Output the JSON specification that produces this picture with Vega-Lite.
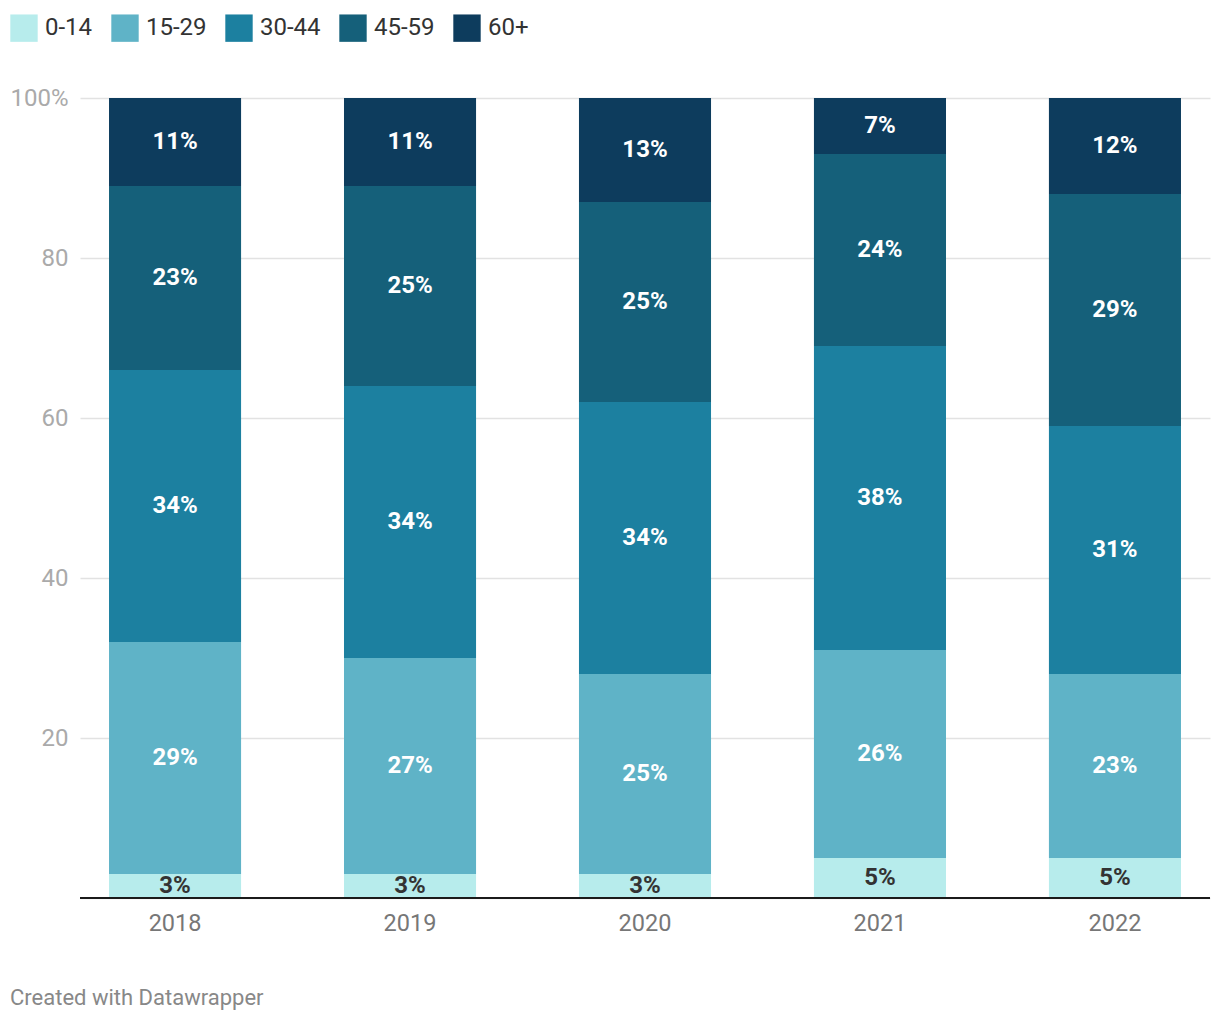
{
  "$schema": "https://vega.github.io/schema/vega-lite/v6.json",
  "width": 1130,
  "height": 800,
  "autosize": {"type": "none"},
  "padding": {"left": 80, "top": 98, "right": 10, "bottom": 124},
  "background": "white",
  "config": {
    "font": "Roboto",
    "view": {"stroke": null}
  },
  "title": {
    "text": "Created with Datawrapper",
    "orient": "bottom",
    "anchor": "start",
    "frame": "group",
    "dx": -70,
    "offset": 53,
    "fontSize": 22,
    "fontWeight": "normal",
    "color": "#888888",
    "font": "Roboto"
  },
  "data": {
    "values": [
      {"year": "2018", "group": "0-14", "order": 1, "value": 3},
      {"year": "2018", "group": "15-29", "order": 2, "value": 29},
      {"year": "2018", "group": "30-44", "order": 3, "value": 34},
      {"year": "2018", "group": "45-59", "order": 4, "value": 23},
      {"year": "2018", "group": "60+", "order": 5, "value": 11},
      {"year": "2019", "group": "0-14", "order": 1, "value": 3},
      {"year": "2019", "group": "15-29", "order": 2, "value": 27},
      {"year": "2019", "group": "30-44", "order": 3, "value": 34},
      {"year": "2019", "group": "45-59", "order": 4, "value": 25},
      {"year": "2019", "group": "60+", "order": 5, "value": 11},
      {"year": "2020", "group": "0-14", "order": 1, "value": 3},
      {"year": "2020", "group": "15-29", "order": 2, "value": 25},
      {"year": "2020", "group": "30-44", "order": 3, "value": 34},
      {"year": "2020", "group": "45-59", "order": 4, "value": 25},
      {"year": "2020", "group": "60+", "order": 5, "value": 13},
      {"year": "2021", "group": "0-14", "order": 1, "value": 5},
      {"year": "2021", "group": "15-29", "order": 2, "value": 26},
      {"year": "2021", "group": "30-44", "order": 3, "value": 38},
      {"year": "2021", "group": "45-59", "order": 4, "value": 24},
      {"year": "2021", "group": "60+", "order": 5, "value": 7},
      {"year": "2022", "group": "0-14", "order": 1, "value": 5},
      {"year": "2022", "group": "15-29", "order": 2, "value": 23},
      {"year": "2022", "group": "30-44", "order": 3, "value": 31},
      {"year": "2022", "group": "45-59", "order": 4, "value": 29},
      {"year": "2022", "group": "60+", "order": 5, "value": 12}
    ]
  },
  "transform": [
    {"stack": "value", "groupby": ["year"], "sort": [{"field": "order", "order": "ascending"}], "as": ["v0", "v1"], "offset": "zero"},
    {"calculate": "(datum.v0 + datum.v1) / 2", "as": "mid"}
  ],
  "layer": [
    {
      "mark": {"type": "bar"},
      "encoding": {
        "x": {
          "field": "year",
          "type": "nominal",
          "scale": {"paddingInner": 0.438, "paddingOuter": 0.1235},
          "axis": {
            "title": null,
            "labelAngle": 0,
            "ticks": false,
            "domain": false,
            "labelFontSize": 23.5,
            "labelColor": "#777777",
            "labelPadding": 13,
            "labelFont": "Roboto"
          }
        },
        "y": {
          "field": "v0",
          "type": "quantitative",
          "scale": {"domain": [0, 100], "nice": false},
          "axis": {
            "title": null,
            "values": [0, 20, 40, 60, 80, 100],
            "labelExpr": "datum.value == 0 ? '' : (datum.value == 100 ? '100%' : datum.label)",
            "domain": false,
            "ticks": false,
            "grid": true,
            "gridColor": "#e2e2e2",
            "gridWidth": 1.5,
            "labelFontSize": 24,
            "labelColor": "#aaaaaa",
            "labelPadding": 12,
            "labelFont": "Roboto"
          }
        },
        "y2": {"field": "v1"},
        "color": {
          "field": "group",
          "type": "nominal",
          "scale": {
            "domain": ["0-14", "15-29", "30-44", "45-59", "60+"],
            "range": ["#b7ecec", "#5fb3c7", "#1c80a0", "#15607a", "#0d3c5d"]
          },
          "legend": {
            "title": null,
            "orient": "none",
            "legendX": -70,
            "legendY": -84,
            "direction": "horizontal",
            "symbolType": "square",
            "symbolSize": 750,
            "symbolStrokeWidth": 0,
            "symbolOpacity": 1,
            "labelFontSize": 24,
            "labelColor": "#333333",
            "labelFont": "Roboto",
            "labelOffset": 7,
            "columnPadding": 18
          }
        },
        "order": {"field": "order"}
      }
    },
    {
      "mark": {"type": "text", "fontWeight": "bold", "fontSize": 24, "baseline": "middle", "align": "center", "font": "Roboto", "text": {"expr": "datum.value + '%'"}},
      "encoding": {
        "x": {"field": "year", "type": "nominal"},
        "y": {"field": "mid", "type": "quantitative"},
        "color": {
          "condition": {"test": "datum.group == '0-14'", "value": "#333333"},
          "value": "#ffffff"
        }
      }
    },
    {
      "data": {"values": [{"base": 0}]},
      "mark": {"type": "rule", "color": "#1a1a1a", "strokeWidth": 2},
      "encoding": {
        "y": {"field": "base", "type": "quantitative"}
      }
    }
  ]
}
